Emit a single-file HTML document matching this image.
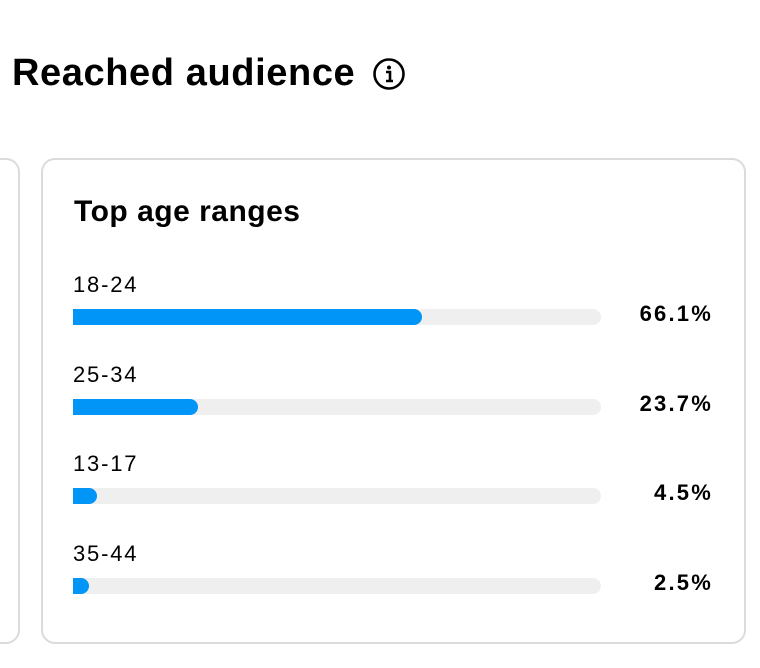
<!DOCTYPE html>
<html><head><meta charset="utf-8"><style>
body{margin:0;width:760px;height:668px;background:#fff;font-family:"Liberation Sans",sans-serif;overflow:hidden;position:relative;color:#000}
.abs{position:absolute}
</style></head><body>
<div class="abs" style="left:12px;top:52px;font-size:38px;font-weight:bold;letter-spacing:0.6px">Reached audience</div>
<svg class="abs" style="left:372px;top:57px" width="34" height="34" viewBox="0 0 34 34"><circle cx="17" cy="17" r="14.5" fill="none" stroke="#000" stroke-width="2.6"/><circle cx="17" cy="10.5" r="2" fill="#000"/><path d="M14 15h4v9M14 24h7" stroke="#000" stroke-width="2.6" fill="none"/></svg>
<div class="abs" style="left:-30px;top:158px;width:46px;height:482px;border:2px solid #dbdbdb;border-radius:14px"></div>
<div class="abs" style="left:41px;top:158px;width:701px;height:482px;border:2px solid #dbdbdb;border-radius:14px"></div>
<div class="abs" style="left:74px;top:195px;font-size:30px;font-weight:bold;letter-spacing:0.5px">Top age ranges</div>
<div id="rows"></div>
<script>
const categories=["18-24","25-34","13-17","35-44"];
const values=[66.1,23.7,4.5,2.5];
const labels=["66.1%","23.7%","4.5%","2.5%"];
const x0=73,w=528,minW=16;
const xs=v=>Math.max(minW,v/100*w);
const root=document.getElementById('rows');
categories.forEach((c,i)=>{
 const y=i*89.7;
 const l=document.createElement('div');l.className='abs';
 
 
 l.style.cssText=`left:73px;top:${272+y}px;font-size:22px;letter-spacing:1.8px`;l.textContent=c;root.appendChild(l);
 const t=document.createElement('div');t.className='abs';
 
 
 t.style.cssText=`left:${x0}px;top:${309+y}px;width:${w}px;height:16px;background:#efefef;border-radius:8px`;root.appendChild(t);
 const b=document.createElement('div');b.className='abs';
 
 
 b.style.cssText=`left:${x0}px;top:${309+y}px;width:${xs(values[i])}px;height:16px;background:#0095f6;border-radius:0 8px 8px 0`;root.appendChild(b);
 const v=document.createElement('div');v.className='abs';
 
 
 v.style.cssText=`right:47px;top:${301+y}px;font-size:22px;font-weight:bold;letter-spacing:2.2px`;v.textContent=labels[i];root.appendChild(v);
});
</script>
</body></html>
